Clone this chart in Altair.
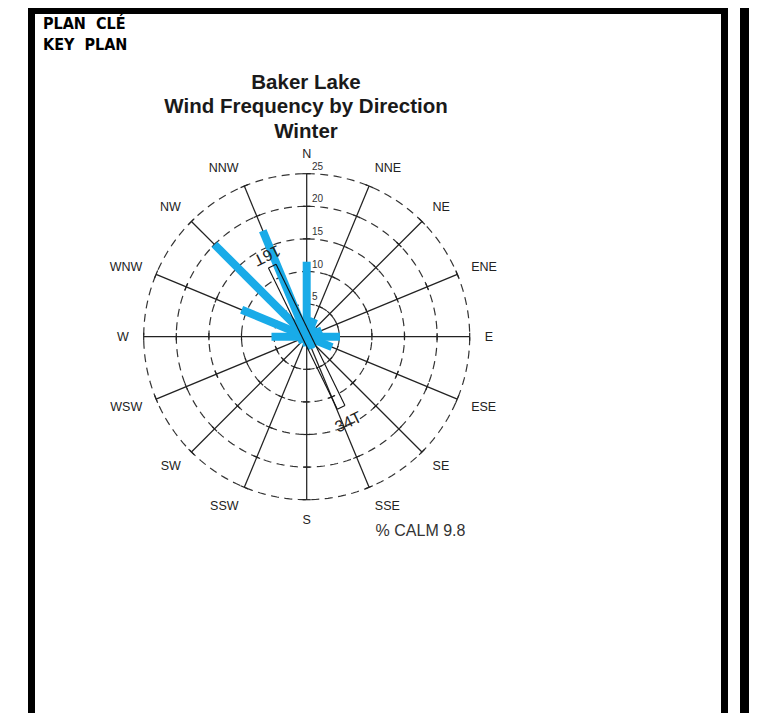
import numpy as np
import pandas as pd
import altair as alt

# ---------------- data ----------------
directions = ["N", "NNE", "NE", "ENE", "E", "ESE", "SE", "SSE",
              "S", "SSW", "SW", "WSW", "W", "WNW", "NW", "NNW"]
frequency = [11.5, 3.0, 2.0, 2.5, 5.1, 4.2, 2.0, 2.0,
             1.5, 1.0, 1.0, 1.5, 5.4, 10.8, 20.0, 17.6]
ring_values = [5, 10, 15, 20, 25]
ring_labels = ["5", "10", "15", "20", "25"]
title_lines = ["Baker Lake", "Wind Frequency by Direction", "Winter"]
calm_text = "% CALM 9.8"
key_plan_lines = ["PLAN\u00a0\u00a0CLÉ", "KEY\u00a0\u00a0PLAN"]
runway_labels = ["16T", "34T"]
runway_bearings = [334, 154]
runway_half_length = 12.05
runway_width = 1.3

# ---------------- layout ----------------
W, H = 746, 705
CX, CY = 298.7, 328.7      # centre of the rose in chart pixels
K = 6.52                   # pixels per % unit
xdom = [-CX / K, (W - CX) / K]
ydom = [-(H - CY) / K, CY / K]
xs = alt.Scale(domain=xdom, nice=False, zero=False)
ys = alt.Scale(domain=ydom, nice=False, zero=False)
RMAX = ring_values[-1]

ang = np.deg2rad(np.arange(len(directions)) * 22.5)
sx, sy = np.sin(ang), np.cos(ang)
sx[np.abs(sx) < 1e-9] = 0.0
sy[np.abs(sy) < 1e-9] = 0.0

# spokes
spokes = pd.DataFrame({"x": 0.0, "y": 0.0, "x2": RMAX * sx, "y2": RMAX * sy})

# ticks on spokes (at rings) and end caps
tick_rows = []
for i in range(len(directions)):
    px, py = np.cos(ang[i]), -np.sin(ang[i])
    for r in ring_values:
        h = 0.55 if r < RMAX else 0.62
        cx, cy = r * sx[i], r * sy[i]
        tick_rows.append({"x": cx - h * px, "y": cy - h * py,
                          "x2": cx + h * px, "y2": cy + h * py})
ticks = pd.DataFrame(tick_rows)

# dashed rings
ring_rows = []
t = np.linspace(0, 2 * np.pi, 241)
for r in ring_values:
    for j, a in enumerate(t):
        ring_rows.append({"ring": r, "o": j, "x": r * np.sin(a), "y": r * np.cos(a)})
rings = pd.DataFrame(ring_rows)

# bars
bars = pd.DataFrame({"dir": directions, "f": frequency,
                     "x": 0.0, "y": 0.0,
                     "x2": np.array(frequency) * sx, "y2": np.array(frequency) * sy})

# runway rectangle
th = np.deg2rad(runway_bearings[0])
ux, uy = np.sin(th), np.cos(th)
qx, qy = np.cos(th), -np.sin(th)
L, hw = runway_half_length, runway_width / 2
corners = [(L * ux + hw * qx, L * uy + hw * qy),
           (L * ux - hw * qx, L * uy - hw * qy),
           (-L * ux - hw * qx, -L * uy - hw * qy),
           (-L * ux + hw * qx, -L * uy + hw * qy)]
rw_rows = []
for i in range(4):
    a, b = corners[i], corners[(i + 1) % 4]
    rw_rows.append({"x": a[0], "y": a[1], "x2": b[0], "y2": b[1]})
runway = pd.DataFrame(rw_rows)

lab_r = [13.9, 14.6]
rw_text = pd.DataFrame({
    "t": runway_labels,
    "x": [lab_r[k] * np.sin(np.deg2rad(runway_bearings[k])) for k in range(2)],
    "y": [lab_r[k] * np.cos(np.deg2rad(runway_bearings[k])) for k in range(2)],
})

# direction labels: anchored just outside the outer ring, aligned away from centre
LR = 27.3
HALF_H = 0.77
dlab = pd.DataFrame({"t": directions,
                     "x": LR * sx,
                     "y": LR * sy + HALF_H * sy,
                     "side": np.where(sx > 0.01, "right", np.where(sx < -0.01, "left", "mid"))})

# ring labels
rlab = pd.DataFrame({"t": ring_labels, "x": 0.8, "y": np.array(ring_values) + 1.07})


def X(f="x"):
    return alt.X(f"{f}:Q", scale=xs, axis=None)


def Y(f="y"):
    return alt.Y(f"{f}:Q", scale=ys, axis=None)


ring_layer = alt.Chart(rings).mark_line(
    color="#333333", strokeWidth=1.2, strokeDash=[8, 5.5]
).encode(x=X(), y=Y(), detail="ring:N", order="o:Q")

spoke_layer = alt.Chart(spokes).mark_rule(color="#222222", strokeWidth=1.25).encode(
    x=X(), y=Y(), x2="x2:Q", y2="y2:Q")

tick_layer = alt.Chart(ticks).mark_rule(color="#222222", strokeWidth=1.2).encode(
    x=X(), y=Y(), x2="x2:Q", y2="y2:Q")

bar_layer = alt.Chart(bars).mark_rule(
    color="#19abe8", strokeWidth=8, strokeCap="butt"
).encode(x=X(), y=Y(), x2="x2:Q", y2="y2:Q", tooltip=["dir:N", "f:Q"])

runway_layer = alt.Chart(runway).mark_rule(color="#111111", strokeWidth=1.1).encode(
    x=X(), y=Y(), x2="x2:Q", y2="y2:Q")

rw_text_16 = alt.Chart(rw_text.iloc[[0]]).mark_text(
    font="Liberation Sans", fontSize=16, color="#222222",
    angle=runway_bearings[1], baseline="middle", align="center"
).encode(x=X(), y=Y(), text="t:N")

rw_text_34 = alt.Chart(rw_text.iloc[[1]]).mark_text(
    font="Liberation Sans", fontSize=16, color="#222222",
    angle=runway_bearings[0], baseline="middle", align="center"
).encode(x=X(), y=Y(), text="t:N")

dlab_layers = []
for side, al in [("right", "left"), ("left", "right"), ("mid", "center")]:
    dlab_layers.append(
        alt.Chart(dlab[dlab.side == side]).mark_text(
            font="Liberation Sans", fontSize=12.5, color="#222222",
            baseline="middle", align=al
        ).encode(x=X(), y=Y(), text="t:N")
    )

rlab_layer = alt.Chart(rlab).mark_text(
    font="Liberation Sans", fontSize=10, color="#333333",
    baseline="middle", align="left"
).encode(x=X(), y=Y(), text="t:N")

one = pd.DataFrame({"a": [0]})

title_layers = []
for i, line in enumerate(title_lines):
    title_layers.append(
        alt.Chart(pd.DataFrame({"t": [line]})).mark_text(
            font="Liberation Sans", fontSize=20.5, fontWeight="bold",
            color="#1a1a1a", baseline="alphabetic", align="center"
        ).encode(x=alt.value(298), y=alt.value(80.5 + 24.5 * i), text="t:N")
    )

calm_layer = alt.Chart(pd.DataFrame({"t": [calm_text]})).mark_text(
    font="Liberation Sans", fontSize=16, color="#333333",
    baseline="middle", align="center"
).encode(x=alt.value(412.5), y=alt.value(523), text="t:N")

key_layers = []
for i, line in enumerate(key_plan_lines):
    key_layers.append(
        alt.Chart(pd.DataFrame({"t": [line]})).mark_text(
            font="Liberation Sans Narrow, DejaVu Sans Condensed, sans-serif",
            fontSize=16, fontWeight=600,
            color="#000000", baseline="alphabetic", align="left"
        ).encode(x=alt.value(35), y=alt.value(20.5 + 21 * i), text="t:N")
    )

frame = []
for (x0, x1, y0, y1) in [(20, 27, 0, H), (20, 720, 0, 6), (713, 720, 0, H), (732, 741, 0, H)]:
    frame.append(
        alt.Chart(one).mark_rect(color="#000000").encode(
            x=alt.value(x0), x2=alt.value(x1), y=alt.value(y0), y2=alt.value(y1))
    )

chart = alt.layer(
    ring_layer, spoke_layer, tick_layer, bar_layer, runway_layer,
    rw_text_16, rw_text_34, *dlab_layers, rlab_layer,
    *title_layers, calm_layer, *key_layers, *frame
).properties(
    width=W, height=H, autosize=alt.AutoSizeParams(type="none"), padding=0,
    background="white"
).configure_view(stroke=None)

chart.save("out.html", embed_options={"renderer": "svg", "actions": False})
